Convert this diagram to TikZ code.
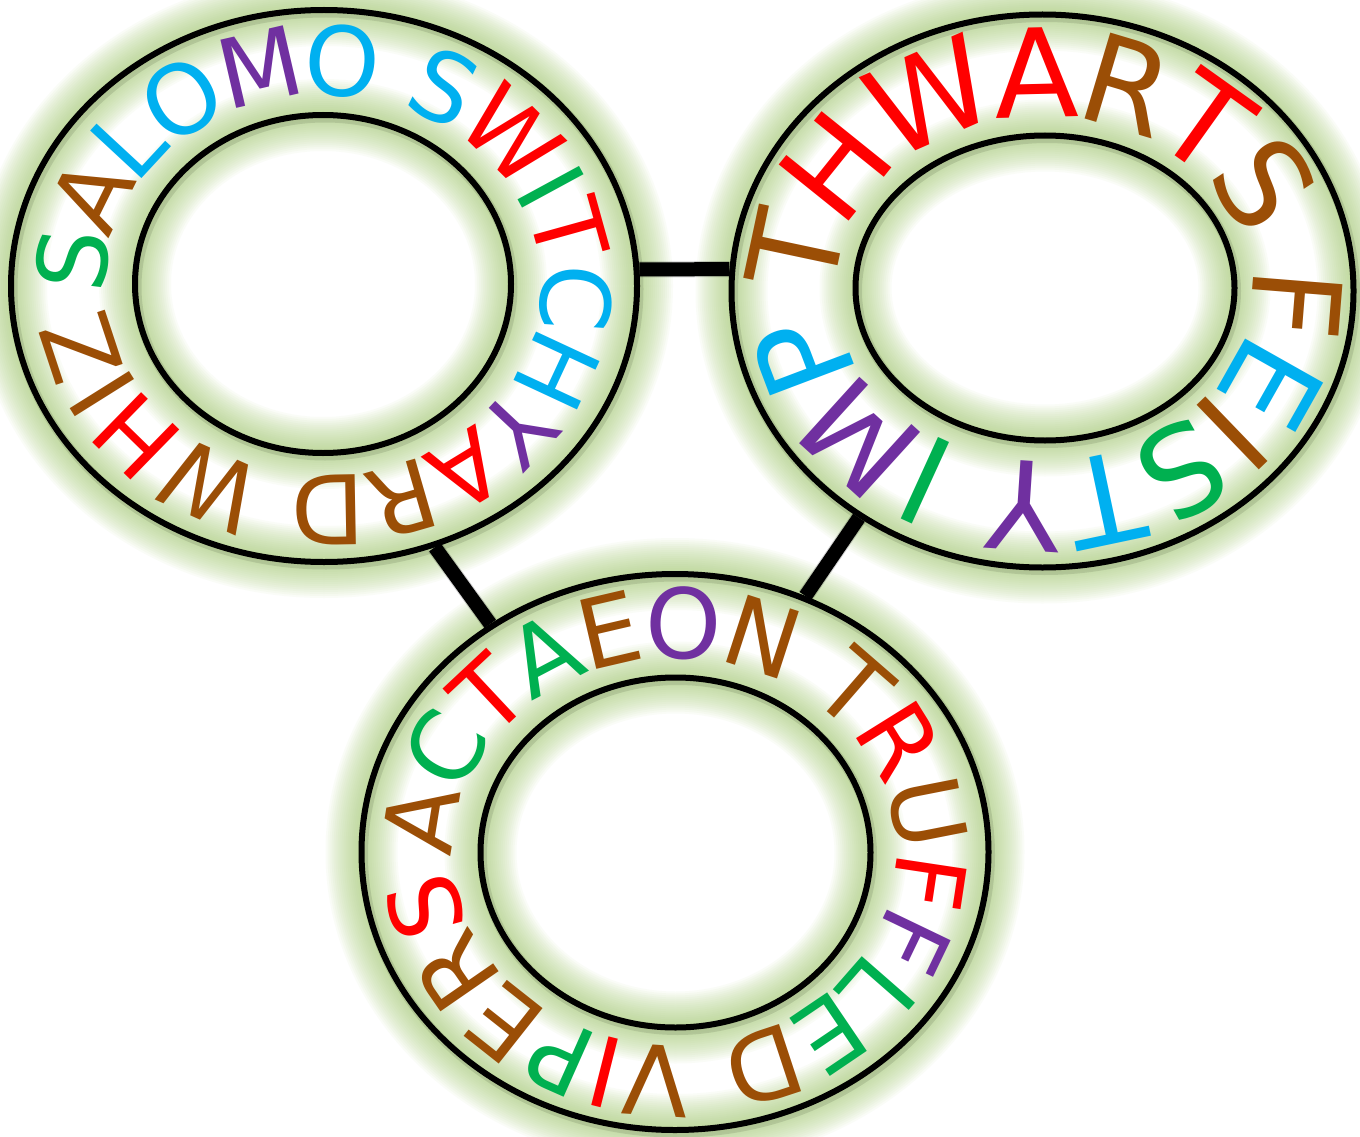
\documentclass[tikz,border=0pt]{standalone}
\usepackage{fontspec}
\setmainfont{DejaVu Sans}
\usetikzlibrary{decorations.text,shapes.geometric}
\definecolor{cR}{RGB}{255,0,0}
\definecolor{cB}{RGB}{155,78,6}
\definecolor{cG}{RGB}{0,176,80}
\definecolor{cP}{RGB}{112,48,160}
\definecolor{cC}{RGB}{0,176,240}
\definecolor{glowc}{RGB}{165,205,115}
\newcommand\glowellipse[3]{\foreach \w in {72,68,...,4}{\draw[glowc,opacity=0.055,line width=\w pt] (#1) ellipse[x radius=#2, y radius=#3];}%
  \draw[black,opacity=0.1,line width=9pt] ([shift={(2,-3)}]#1) ellipse[x radius=#2, y radius=#3];}
\begin{document}
\begin{tikzpicture}[x=1pt,y=1pt,
  ring/.style={ellipse, draw, line width=6pt, inner sep=0pt},
  inring/.style={draw, line width=6pt},
  conn/.style={line width=14pt},
  connshadow/.style={line width=16pt, black, opacity=0.18}]
\useasboundingbox (0,0) rectangle (1360,-1137);
\fill[white] (0,0) rectangle (1360,-1137);
\coordinate (c1) at (324,-286);
\coordinate (c1in) at (323,-284);
\coordinate (c1t) at (323.5,-285);
\coordinate (c2) at (1042.5,-291);
\coordinate (c2in) at (1045,-288);
\coordinate (c2t) at (1044,-289.5);
\coordinate (c3) at (675,-852);
\coordinate (c3in) at (675.5,-852.5);
\coordinate (c3t) at (675,-852);
% glow
\glowellipse{c1}{313}{276}
\glowellipse{c1in}{188}{169}
\glowellipse{c2}{311}{276.5}
\glowellipse{c2in}{189.5}{152.5}
\glowellipse{c3}{313.5}{278}
\glowellipse{c3in}{195}{175}
% rings
\node[ring, minimum width=626pt, minimum height=552pt] (r1) at (c1) {};
\node[ring, minimum width=622pt, minimum height=553pt] (r2) at (c2) {};
\node[ring, minimum width=627pt, minimum height=556pt] (r3) at (c3) {};
\draw[inring] (c1in) ellipse[x radius=188, y radius=169];
\draw[inring] (c2in) ellipse[x radius=189.5, y radius=152.5];
\draw[inring] (c3in) ellipse[x radius=195, y radius=175];
% connectors
\begin{scope}[shift={(1,-5)}]
\draw[connshadow] (r1.3) -- (r2.176);
\draw[connshadow] (r1.-67) -- (r3.129);
\draw[connshadow] (r2.-129) -- (r3.63);
\end{scope}
\draw[conn] (r1.3) -- (r2.176);
\draw[conn] (r1.-67) -- (r3.129);
\draw[conn] (r2.-129) -- (r3.63);
% texts
\begin{scope}
\fontsize{96pt}{110pt}\selectfont
\path[decorate, decoration={text along path, raise=-19pt,
  text={|\color{cG}|S|\color{cB}|A|\color{cC}|L|\color{cC}|O|\color{cP}|M|\color{cC}|O |\color{cC}|S|\color{cR}|W|\color{cG}|I|\color{cR}|T|\color{cC}|C|\color{cC}|H|\color{cP}|Y|\color{cR}|A|\color{cB}|R|\color{cB}|D |\color{cB}|W|\color{cR}|H|\color{cB}|I|\color{cB}|Z}}]
  ([shift={(c1t)}]182:237 and 209) arc[start angle=182, end angle=-178, x radius=237, y radius=209];
\end{scope}
\begin{scope}
\fontsize{123pt}{140pt}\selectfont
\path[decorate, decoration={text along path, raise=-23pt,
  text={|\color{cB}|T|\color{cR}|H|\color{cR}|W|\color{cR}|A|\color{cB}|R|\color{cR}|T|\color{cB}|S |\color{cB}|F|\color{cC}|E|\color{cB}|I|\color{cG}|S|\color{cC}|T|\color{cP}|Y |\color{cG}|I|\color{cP}|M|\color{cC}|P}}]
  ([shift={(c2t)}]180.8:231 and 195) arc[start angle=180.8, end angle=-179.2, x radius=231, y radius=195];
\end{scope}
\begin{scope}
\fontsize{97pt}{112pt}\selectfont
\path[decorate, decoration={text along path, raise=-13.4pt,
  text={|\color{cB}|A|\color{cG}|C|\color{cR}|T|\color{cG}|A|\color{cB}|E|\color{cP}|O|\color{cB}|N |\color{cB}|T|\color{cR}|R|\color{cB}|U|\color{cR}|F|\color{cP}|F|\color{cG}|L|\color{cG}|E|\color{cB}|D |\color{cB}|V|\color{cR}|I|\color{cG}|P|\color{cB}|E|\color{cB}|R|\color{cR}|S}}]
  ([shift={(c3t)}]181:235 and 207) arc[start angle=181, end angle=-179, x radius=235, y radius=207];
\end{scope}
\end{tikzpicture}
\end{document}
